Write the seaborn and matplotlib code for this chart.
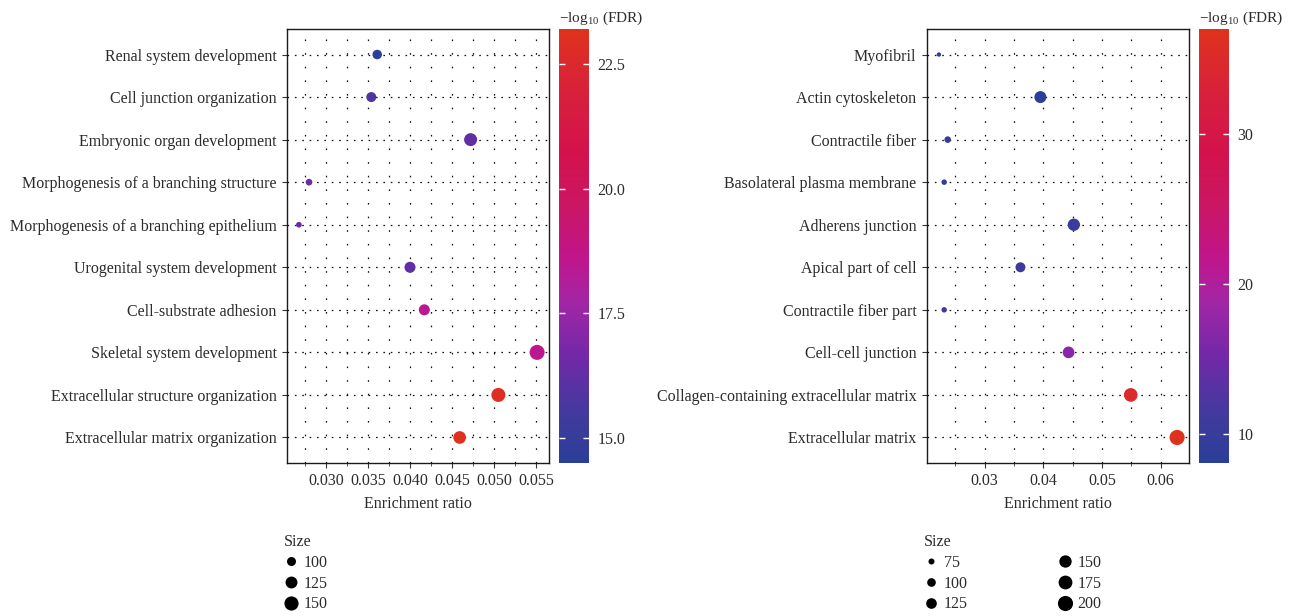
import numpy as np
import pandas as pd
import matplotlib
matplotlib.use("Agg")
import matplotlib.pyplot as plt
import seaborn as sns
from matplotlib.colors import LinearSegmentedColormap, Normalize
from matplotlib.cm import ScalarMappable
from matplotlib.lines import Line2D
from matplotlib.ticker import MultipleLocator, FormatStrFormatter

# ---------------- data ----------------
left_terms = ["Renal system development", "Cell junction organization",
              "Embryonic organ development", "Morphogenesis of a branching structure",
              "Morphogenesis of a branching epithelium", "Urogenital system development",
              "Cell-substrate adhesion", "Skeletal system development",
              "Extracellular structure organization", "Extracellular matrix organization"]
left_ratio = [0.0361, 0.0354, 0.0472, 0.0280, 0.0268, 0.0400, 0.0417, 0.0551, 0.0505, 0.0459]
left_fdr = [14.5, 15.8, 16.2, 16.4, 16.4, 16.2, 18.4, 18.5, 22.9, 23.2]
left_size = [104, 108, 136, 85, 80, 117, 117, 160, 148, 133]
left_size_breaks = [100, 125, 150]
left_cbar_ticks = [15.0, 17.5, 20.0, 22.5]

right_terms = ["Myofibril", "Actin cytoskeleton", "Contractile fiber",
               "Basolateral plasma membrane", "Adherens junction", "Apical part of cell",
               "Contractile fiber part", "Cell-cell junction",
               "Collagen-containing extracellular matrix", "Extracellular matrix"]
right_ratio = [0.0222, 0.0395, 0.0237, 0.0231, 0.0452, 0.0361, 0.0231, 0.0443, 0.0549, 0.0628]
right_fdr = [9.3, 8.1, 9.6, 9.2, 10.3, 10.5, 11.0, 16.8, 35.0, 37.0]
right_size = [64, 145, 80, 71, 150, 116, 71, 140, 173, 200]
right_size_breaks = [75, 100, 125, 150, 175, 200]
right_cbar_ticks = [10, 20, 30]

# ---------------- style ----------------
sns.set_theme(style="white")
plt.rcParams['font.family'] = ['Liberation Serif', 'DejaVu Serif']
plt.rcParams['mathtext.fontset'] = 'custom'
plt.rcParams['mathtext.rm'] = 'Liberation Serif'

cmap = LinearSegmentedColormap.from_list("fdr", [
    (0.00, "#2a3f97"), (0.12, "#44399e"), (0.25, "#7428a9"), (0.37, "#a226a5"),
    (0.47, "#c0158c"), (0.60, "#cb1662"), (0.72, "#d3124c"), (0.86, "#d9213a"),
    (1.00, "#de321e")])

TXT = "#2b2b2b"
FS = 11.5
fig = plt.figure(figsize=(12.98, 6.16), dpi=100)
fig.patch.set_facecolor("white")

W, H = 1298, 616


def panel(x0, terms, ratio, fdr, size, breaks, cb_ticks, major, fmt, areas,
          ncol, colspace):
    ax = fig.add_axes([x0 / W, 1 - 463 / H, 262 / W, 434 / H])
    cax = fig.add_axes([(x0 + 272) / W, 1 - 463 / H, 30 / W, 434 / H])
    df = pd.DataFrame({"term": terms, "ratio": ratio, "fdr": fdr, "size": size})
    norm = Normalize(min(fdr), max(fdr))
    smin, smax = min(size), max(size)
    sns.scatterplot(data=df, x="ratio", y="term", hue="fdr", hue_norm=norm,
                    palette=cmap, size="size", sizes=areas, size_norm=(smin, smax),
                    legend=False, linewidth=0, ax=ax, zorder=3)
    n = len(terms)
    ax.set_ylim(n - 0.4, -0.6)
    ax.margins(x=0.05)
    ax.xaxis.set_major_locator(MultipleLocator(major))
    ax.xaxis.set_minor_locator(MultipleLocator(major / 2))
    ax.xaxis.set_major_formatter(FormatStrFormatter(fmt))
    ax.grid(False)
    ax.grid(True, axis="x", which="both", color="#111111", linewidth=0.9,
            linestyle=(0, (1.3, 9.6)))
    ax.grid(True, axis="y", which="major", color="#111111", linewidth=0.9,
            linestyle=(0, (1.3, 4.6)))
    ax.set_axisbelow(True)
    for s in ax.spines.values():
        s.set_visible(True)
        s.set_color("#1a1a1a")
        s.set_linewidth(1.0)
    ax.tick_params(axis="both", which="major", direction="out", length=3.5,
                   width=0.8, color="#333333", labelsize=FS, labelcolor=TXT,
                   bottom=True, left=True, pad=4)
    ax.tick_params(axis="x", which="minor", direction="out", length=1.8,
                   width=0.6, color="#333333", bottom=True)
    ax.set_xlabel("Enrichment ratio", fontsize=FS, color=TXT, labelpad=5)
    ax.set_ylabel("")

    cb = fig.colorbar(ScalarMappable(norm=norm, cmap=cmap), cax=cax)
    cb.outline.set_visible(False)
    cb.set_ticks(cb_ticks)
    cb.ax.yaxis.set_major_formatter(FormatStrFormatter("%.1f" if isinstance(cb_ticks[0], float) else "%d"))
    cax.set_axisbelow(False)
    cax.tick_params(axis="y", which="both", direction="in", length=4, width=1,
                    color="white", labelcolor=TXT, labelsize=FS,
                    left=True, right=True, labelleft=False, labelright=True, pad=6)
    cax.minorticks_off()
    cax.set_title("\u2212log$_{\\mathregular{10}}$ (FDR)", loc="left",
                  fontsize=11, color=TXT, pad=5)

    def area(v):
        return areas[0] + (areas[1] - areas[0]) * (v - smin) / (smax - smin)

    handles = [Line2D([], [], marker="o", linestyle="", color="black",
                      markeredgewidth=0, markersize=np.sqrt(area(b))) for b in breaks]
    leg = fig.legend(handles, [str(b) for b in breaks], title="Size",
                     loc="upper left", bbox_to_anchor=((x0 - 3) / W, 1 - 534 / H),
                     frameon=False, ncol=ncol, alignment="left", fontsize=FS,
                     title_fontsize=FS, labelspacing=0.3, handletextpad=0.35,
                     handlelength=0.9, columnspacing=colspace, borderpad=0,
                     borderaxespad=0)
    for t in leg.get_texts():
        t.set_color(TXT)
    leg.get_title().set_color(TXT)
    return ax


panel(287, left_terms, left_ratio, left_fdr, left_size, left_size_breaks,
      left_cbar_ticks, 0.005, "%.3f", (17, 117), 1, 1.0)
panel(927, right_terms, right_ratio, right_fdr, right_size, right_size_breaks,
      right_cbar_ticks, 0.01, "%.2f", (9.9, 118.7), 2, 5.6)

fig.savefig("out.png", dpi=100, facecolor="white")
